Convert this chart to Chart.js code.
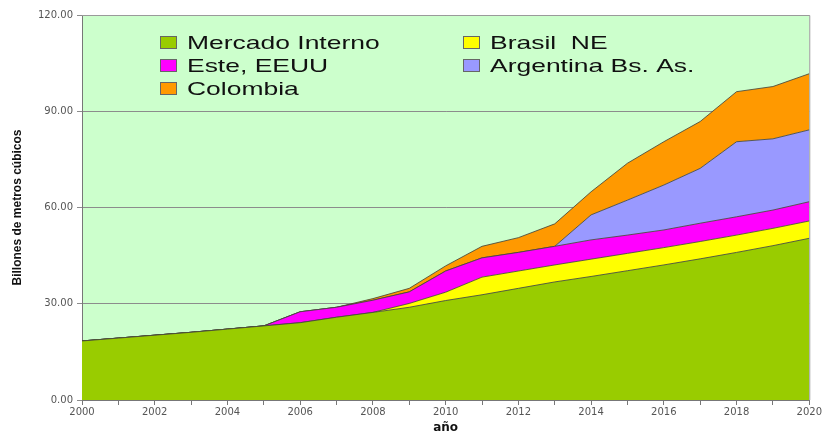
<!DOCTYPE html>
<html>
<head>
<meta charset="utf-8">
<script src="https://cdn.jsdelivr.net/npm/chart.js@4"></script>
<style>
  html, body { margin: 0; padding: 0; background: #fff; }
</style>
</head>
<body>
<canvas id="myChart" width="823" height="434"></canvas>
<script>
// data (billones de m3)
const years = ["2000", "2001", "2002", "2003", "2004", "2005", "2006", "2007", "2008", "2009", "2010",
  "2011", "2012", "2013", "2014", "2015", "2016", "2017", "2018", "2019", "2020"];

const mercadoInterno = [18.4, 19.3, 20.2, 21.1, 22.1, 23.1, 24.1, 25.8, 27.3, 28.9, 31.0,
  32.8, 34.8, 36.8, 38.5, 40.3, 42.1, 44.0, 46.0, 48.1, 50.4];
const brasilNE = [0, 0, 0, 0, 0, 0, 0, 0, 0, 1.2, 2.6,
  5.5, 5.4, 5.3, 5.4, 5.4, 5.4, 5.4, 5.4, 5.4, 5.4];
const esteEEUU = [0, 0, 0, 0, 0, 0, 3.4, 3.1, 3.8, 3.6, 6.6,
  6.0, 5.8, 5.8, 6.0, 5.7, 5.5, 5.7, 5.7, 5.7, 6.0];
const argentina = [0, 0, 0, 0, 0, 0, 0, 0, 0, 0, 0,
  0, 0, 0, 7.8, 10.9, 14.0, 17.1, 23.4, 22.2, 22.4];
const colombia = [0, 0, 0, 0, 0, 0, 0, 0, 0.5, 1.1, 1.6,
  3.6, 4.6, 7.0, 7.2, 11.5, 13.5, 14.6, 15.6, 16.3, 17.5];

const yTicks = [0, 30, 60, 90, 120];

const seriesNames = ["Mercado Interno", "Brasil  NE", "Este, EEUU", "Argentina Bs. As.", "Colombia"];
const seriesColors = ["#99CC00", "#FFFF00", "#FF00FF", "#9999FF", "#FF9900"];
const seriesData = [mercadoInterno, brasilNE, esteEEUU, argentina, colombia];

// light green plot background + top/right frame
const plotBg = {
  id: "plotBg",
  beforeDraw(chart) {
    const { ctx, chartArea: a } = chart;
    ctx.save();
    ctx.fillStyle = "#CCFFCC";
    ctx.fillRect(a.left, a.top, a.right - a.left, a.bottom - a.top);
    ctx.restore();
  },
  afterDraw(chart) {
    const { ctx, chartArea: a } = chart;
    ctx.save();
    ctx.strokeStyle = "#9a9a9a";
    ctx.lineWidth = 1;
    ctx.beginPath();
    ctx.moveTo(a.left, a.top + 0.5);
    ctx.lineTo(a.right + 0.5, a.top + 0.5);
    ctx.lineTo(a.right + 0.5, a.bottom);
    ctx.stroke();
    ctx.restore();
  },
};

// two column legend inside the plot
const cornerLegend = {
  id: "cornerLegend",
  afterDraw(chart) {
    const ctx = chart.ctx;
    const ds = chart.data.datasets;
    ctx.save();
    ctx.font = '18.5px "Liberation Sans", Arial, sans-serif';
    ctx.textBaseline = "middle";
    ds.forEach((d, k) => {
      const x = k % 2 === 0 ? 160 : 463;
      const y = 42.5 + Math.floor(k / 2) * 23;
      ctx.fillStyle = d.backgroundColor;
      ctx.fillRect(x, y - 6.5, 17, 13);
      ctx.strokeStyle = "#666";
      ctx.lineWidth = 1;
      ctx.strokeRect(x + 0.5, y - 6, 16, 12);
      ctx.save();
      ctx.translate(x + 27, y + 1);
      ctx.scale(1.43, 1);
      ctx.fillStyle = "#111";
      ctx.fillText(d.label, 0, 0);
      ctx.restore();
    });
    ctx.restore();
  },
};

const ctx = document.getElementById("myChart");

const chart = new Chart(ctx, {
  type: "line",
  data: {
    labels: years,
    datasets: seriesData.map((vals, i) => ({
      label: seriesNames[i],
      data: vals,
      backgroundColor: seriesColors[i],
      borderColor: "rgba(70,70,60,0.85)",
      borderWidth: 1,
      pointRadius: 0,
      tension: 0,
      fill: i === 0 ? "origin" : "-1",
    })),
  },
  options: {
    responsive: false,
    animation: false,
    devicePixelRatio: 1,
    layout: { padding: { top: 15, right: 12, left: 0, bottom: 0 } },
    plugins: {
      legend: { display: false },
      tooltip: { enabled: false },
    },
    scales: {
      x: {
        type: "category",
        offset: false,
        afterFit: (scale) => { scale.height = 34; },
        grid: { drawOnChartArea: false, tickLength: 5, color: "#777" },
        border: { color: "#777" },
        ticks: {
          autoSkip: false,
          maxRotation: 0,
          padding: 1,
          color: "#555",
          font: { family: "DejaVu Sans", size: 10 },
          callback: (v, i) => (i % 2 === 0 ? years[i] : ""),
        },
        title: {
          display: true,
          text: "año",
          color: "#111",
          font: { family: "DejaVu Sans", size: 12, weight: "bold", lineHeight: 1 },
          padding: { top: 0, bottom: 0 },
        },
      },
      y: {
        stacked: true,
        min: 0,
        max: 120,
        afterFit: (scale) => { scale.width = 82; },
        afterBuildTicks: (scale) => { scale.ticks = yTicks.map((v) => ({ value: v })); },
        grid: { color: "#8c8c8c", tickLength: 5 },
        border: { color: "#777" },
        ticks: {
          padding: 4,
          color: "#555",
          font: { family: "DejaVu Sans", size: 10 },
          callback: (v) => Number(v).toFixed(2),
        },
        title: {
          display: true,
          text: "Billones de metros cúbicos",
          color: "#111",
          font: { family: "Liberation Sans", size: 12, weight: "bold", lineHeight: 1.2 },
          padding: { top: 10, bottom: 0 },
        },
      },
    },
  },
  plugins: [plotBg, cornerLegend],
});
</script>
</body>
</html>
